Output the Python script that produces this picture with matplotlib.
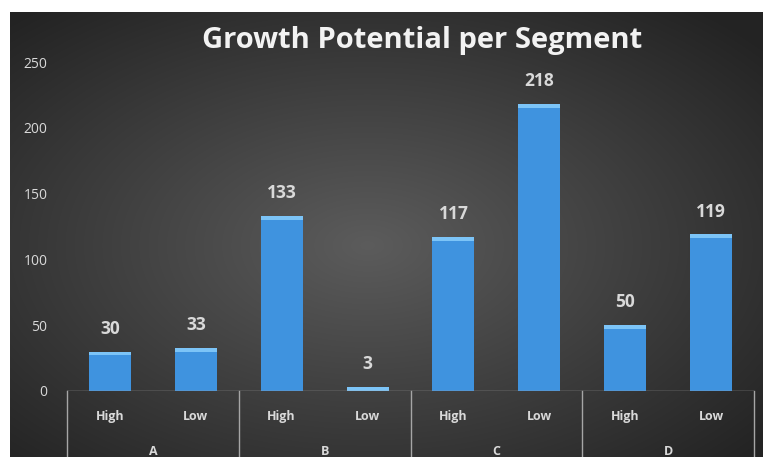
import numpy as np
import matplotlib.pyplot as plt

segments = ["A", "B", "C", "D"]
levels = ["High", "Low"]
values = [30, 33, 133, 3, 117, 218, 50, 119]
yticks = [0, 50, 100, 150, 200, 250]

bar_color = "#3f93df"
cap_color = "#7cc4f7"
text_color = "#d9d9d9"
line_color = "#a6a6a6"

plt.rcParams["font.family"] = ["Open Sans", "DejaVu Sans"]

fig = plt.figure(figsize=(7.63, 4.57), dpi=100, facecolor="white")

# dark radial background, lighter in the middle
bg = fig.add_axes([10 / 763, 0, 753 / 763, 445 / 457])
yy, xx = np.mgrid[-1:1:300j, -1:1:500j]
r = np.sqrt((xx + 0.05) ** 2 + (yy * 1.0 - 0.05) ** 2)
g = np.clip(0.36 - 0.16 * r, 0.14, 0.36)
bg.imshow(np.dstack([g, g, g]), aspect="auto", extent=[0, 1, 0, 1],
          interpolation="bilinear")
bg.set_axis_off()

ax = fig.add_axes([67 / 763, 66 / 457, 687 / 763, 329 / 457])
ax.patch.set_alpha(0)
x = np.arange(len(values))
bars = ax.bar(x, values, width=0.49, color=bar_color, zorder=2)
# lighter bevel on top of each bar
cap = 3.0
ax.bar(x, [min(cap, v) for v in values], bottom=[v - min(cap, v) for v in values],
       width=0.49, color=cap_color, zorder=3)
ax.bar_label(bars, labels=[str(v) for v in values], padding=10,
             color=text_color, fontsize=12.5, fontweight="bold")

ax.set_xlim(-0.5, len(values) - 0.5)
ax.set_ylim(0, 250)
ax.set_yticks(yticks)
ax.tick_params(axis="y", length=0, pad=14, labelcolor=text_color, labelsize=10)
ax.set_xticks([])
for s in ax.spines.values():
    s.set_visible(False)

# two-level category axis
ax.axhline(0, color=line_color, lw=1, zorder=4)
for k in range(len(segments) + 1):
    xs = k * 2 - 0.5
    ax.plot([xs, xs], [0, -60], color=line_color, lw=1, clip_on=False)
for i, v in enumerate(values):
    ax.text(i, -19, levels[i % 2], ha="center", va="center",
            color=text_color, fontsize=9, fontweight="bold", clip_on=False)
for k, seg in enumerate(segments):
    ax.text(k * 2 + 0.5, -46, seg, ha="center", va="center",
            color=text_color, fontsize=9, fontweight="bold", clip_on=False)

fig.text(0.553, 0.912, "Growth Potential per Segment", ha="center", va="center",
         color="#f2f2f2", fontsize=21, fontweight="bold")

fig.savefig("out.png", dpi=100)
